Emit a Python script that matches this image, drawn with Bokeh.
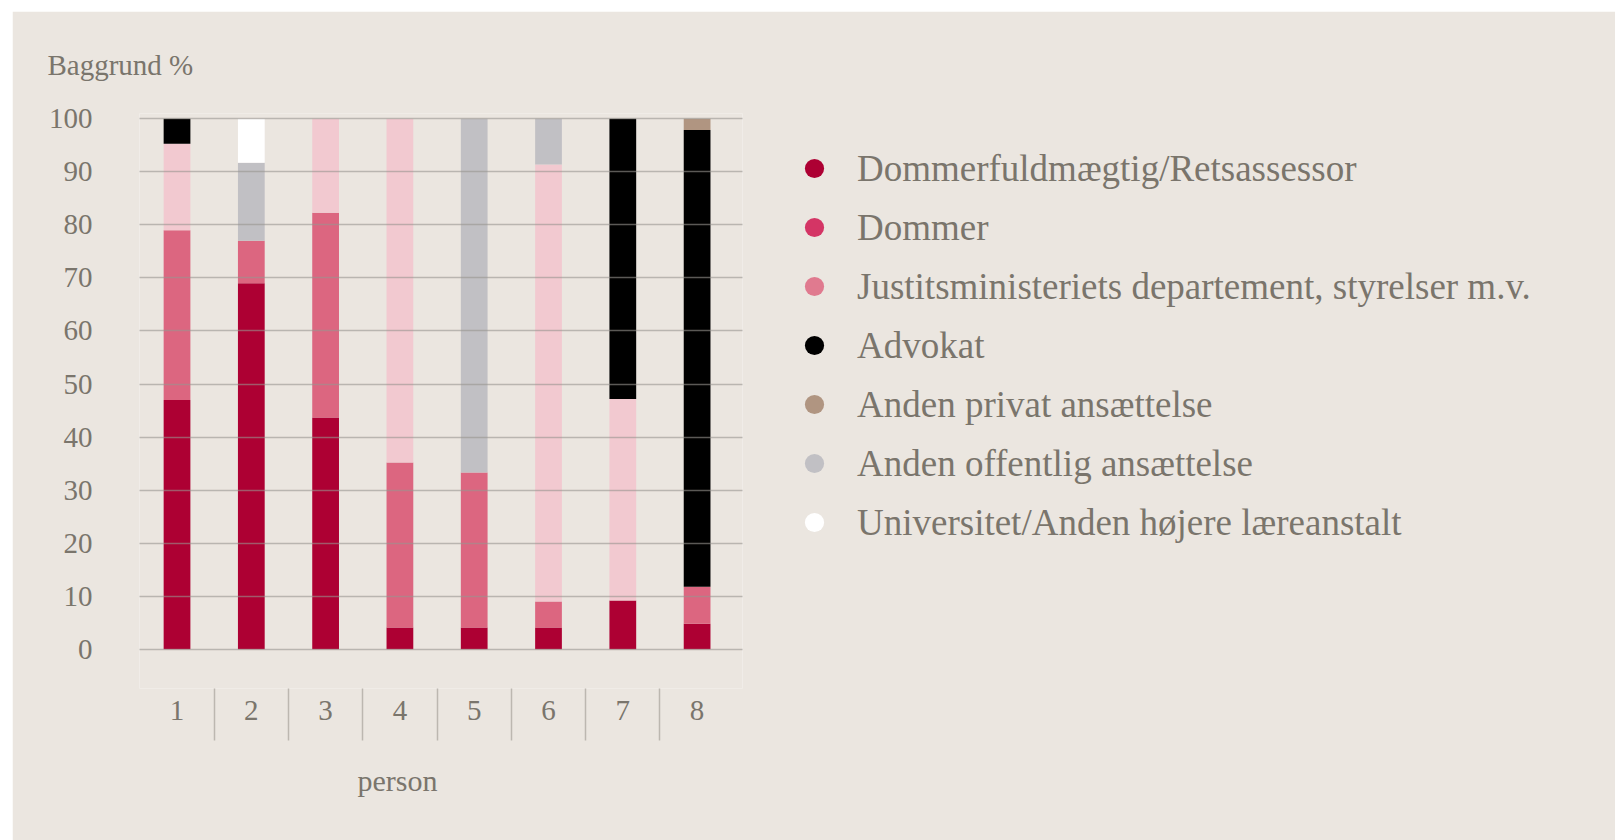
from bokeh.plotting import figure
from bokeh.models import (Range1d, FixedTicker, Legend, LegendItem, ColumnDataSource, Title)
from bokeh.embed import file_html
from bokeh.resources import INLINE

# ---------------- data ----------------
persons = ["1", "2", "3", "4", "5", "6", "7", "8"]
series_names = [
    "Dommerfuldmægtig/Retsassessor",
    "Dommer",
    "Justitsministeriets departement, styrelser m.v.",
    "Advokat",
    "Anden privat ansættelse",
    "Anden offentlig ansættelse",
    "Universitet/Anden højere læreanstalt",
]
dommerfuldmaegtig = [47.0, 69.0, 43.7, 4.1, 4.1, 4.1, 9.2, 4.8]
dommer            = [32.0, 8.0, 38.6, 31.1, 29.2, 4.9, 0.0, 7.0]
justits           = [16.3, 0.0, 17.7, 64.8, 0.0, 82.4, 38.0, 0.0]
advokat           = [4.7, 0.0, 0.0, 0.0, 0.0, 0.0, 52.8, 86.1]
privat            = [0.0, 0.0, 0.0, 0.0, 0.0, 0.0, 0.0, 2.1]
offentlig         = [0.0, 14.7, 0.0, 0.0, 66.7, 8.6, 0.0, 0.0]
universitet       = [0.0, 8.3, 0.0, 0.0, 0.0, 0.0, 0.0, 0.0]
y_ticks = [0, 10, 20, 30, 40, 50, 60, 70, 80, 90, 100]
y_title = "Baggrund %"
x_title = "person"

bar_colors = ["#ad0033", "#dc6680", "#f2c9d0", "#000000", "#b09581", "#c1c0c4", "#ffffff"]
legend_colors = ["#ad0033", "#d43565", "#e07a8f", "#000000", "#b09581", "#c1c0c4", "#ffffff"]

BG = "#ebe6e0"
TXT = "#7a756c"
FONT = "Liberation Serif"

# ---------------- figure ----------------
xpos = [i + 1 for i in range(len(persons))]
keys = ["s%d" % i for i in range(len(series_names))]
data = {"x": xpos}
for k, vals in zip(keys, [dommerfuldmaegtig, dommer, justits, advokat, privat, offentlig, universitet]):
    data[k] = vals
source = ColumnDataSource(data)

p = figure(frame_width=603, frame_height=575, output_backend="svg", toolbar_location=None,
           x_range=Range1d(0.495, len(persons) + 0.611), y_range=Range1d(-7.4, 101),
           min_border_left=127, min_border_right=873, min_border_top=102, min_border_bottom=152,
           background_fill_color=BG, border_fill_color=BG,
           outline_line_color=None, margin=(11, 0, 0, 12))

p.vbar_stack(keys, x="x", width=0.36, source=source, color=bar_colors, line_width=0)

# title
t = Title(text=y_title, align="left", offset=-92, standoff=66,
          text_font=FONT, text_font_size="29px", text_font_style="normal", text_color=TXT)
p.add_layout(t, "above")

# y axis
yax = p.yaxis[0]
yax.ticker = FixedTicker(ticks=y_ticks)
yax.axis_line_color = None
yax.major_tick_line_color = None
yax.minor_tick_line_color = None
yax.major_tick_out = 0
yax.major_tick_in = 0
yax.major_label_standoff = 47
yax.major_label_text_font = FONT
yax.major_label_text_font_size = "29px"
yax.major_label_text_color = TXT

# x axis
mids = [(a + b) / 2 for a, b in zip(xpos[:-1], xpos[1:])]
xax = p.xaxis[0]
xax.ticker = FixedTicker(ticks=xpos, minor_ticks=mids)
xax.major_label_overrides = {x: lab for x, lab in zip(xpos, persons)}
xax.axis_line_color = None
xax.major_tick_line_color = None
xax.major_tick_out = 0
xax.major_tick_in = 0
xax.minor_tick_in = 0
xax.minor_tick_out = 52
xax.minor_tick_line_color = "#bcb7b0"
xax.minor_tick_line_width = 1.5
xax.major_label_standoff = -40
xax.major_label_text_font = FONT
xax.major_label_text_font_size = "29px"
xax.major_label_text_color = TXT

xt = Title(text=x_title, align="left", offset=218, standoff=78,
           text_font=FONT, text_font_size="30px", text_font_style="normal", text_color=TXT)
p.add_layout(xt, "below")

# grid
p.xgrid.grid_line_color = None
p.ygrid.ticker = FixedTicker(ticks=y_ticks)
p.ygrid.grid_line_color = "#989490"
p.ygrid.grid_line_alpha = 0.6
p.ygrid.grid_line_width = 1.5
p.ygrid.level = "overlay"

# legend with round markers
items = []
for name, col in zip(series_names, legend_colors):
    r = p.scatter(x=[float("nan")], y=[float("nan")], marker="circle",
                  fill_color=col, line_color=None)
    items.append(LegendItem(label=name, renderers=[r]))
legend = Legend(items=items, location=(48, 142), orientation="vertical",
                glyph_width=48, glyph_height=48, spacing=11, label_standoff=19,
                padding=0, margin=0, border_line_color=None, background_fill_alpha=0,
                label_text_font=FONT, label_text_font_size="37px", label_text_color=TXT)
p.add_layout(legend, "right")

html = file_html(p, INLINE)
open("out.html", "w").write(html)
